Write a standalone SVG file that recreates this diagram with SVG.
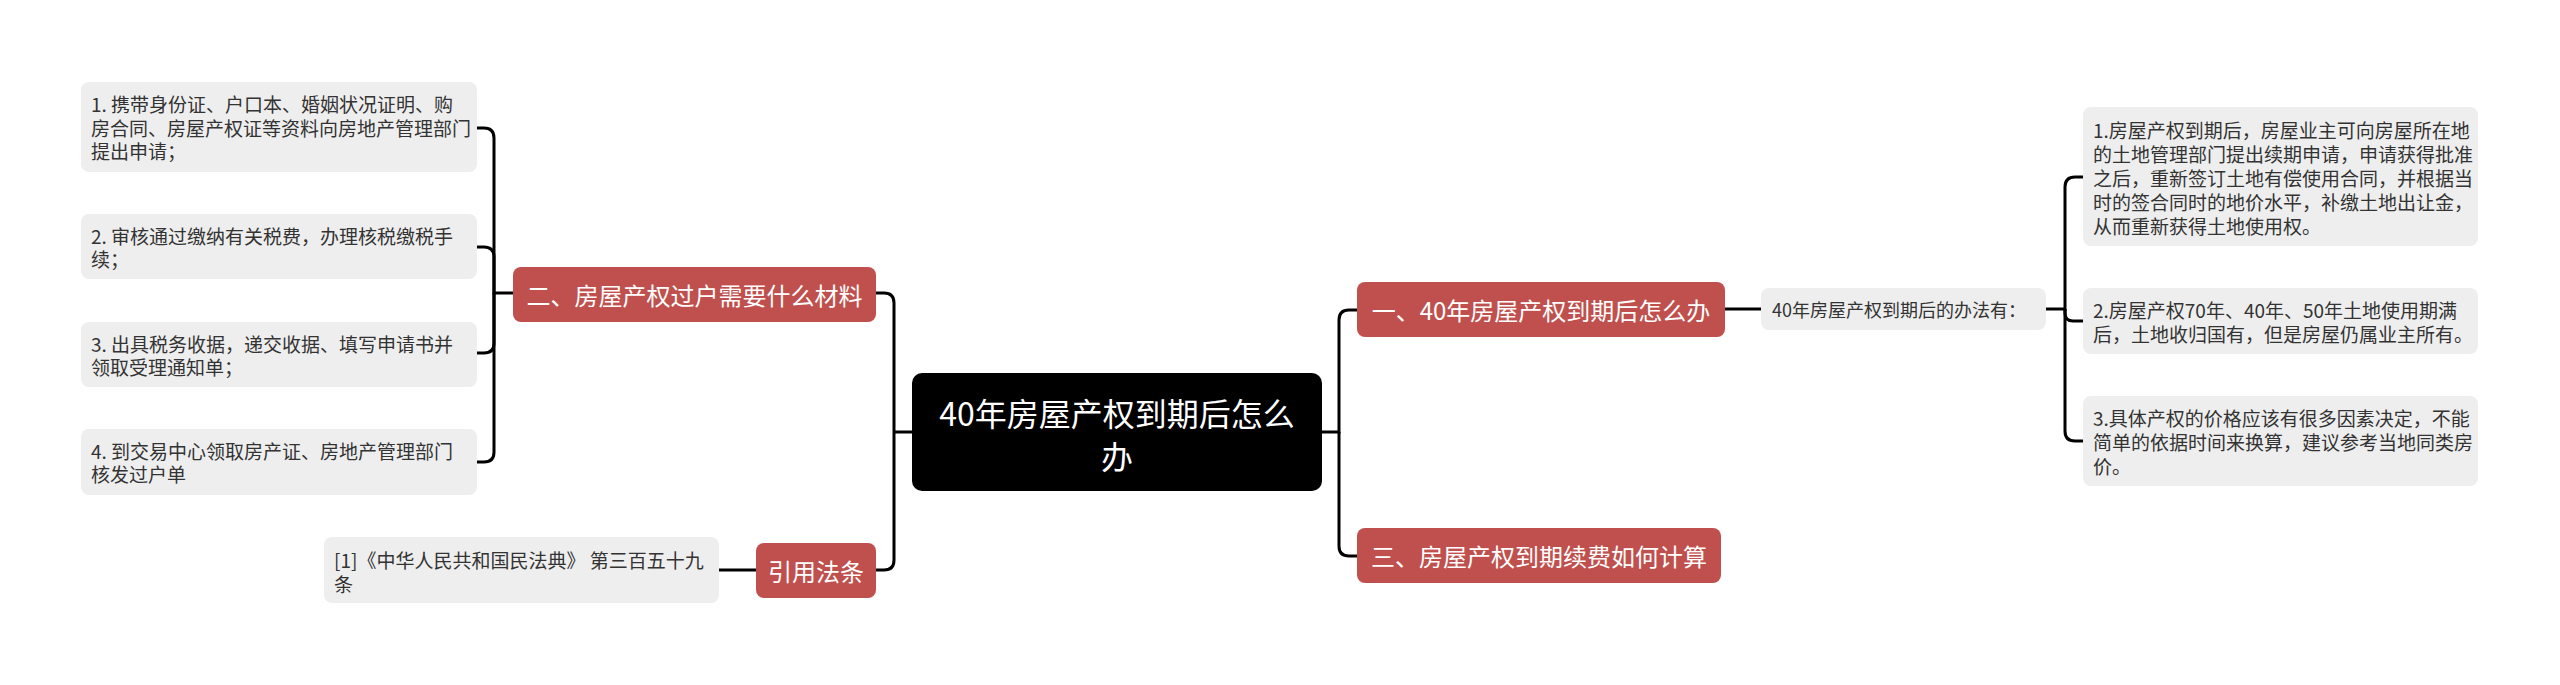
<svg xmlns="http://www.w3.org/2000/svg" width="2560" height="685" viewBox="0 0 2560 685">
<style>
text{font-family:"Noto Sans CJK SC","Noto Sans",sans-serif;dominant-baseline:central}
.leaf rect{fill:#eeeeee}
.leaf text{fill:#333333;font-size:19px}
.red rect{fill:#c0504d}
.red text{fill:#ffffff;font-size:24px;text-anchor:middle}
.root rect{fill:#000000}
.root text{fill:#ffffff;font-size:32px;text-anchor:middle}
.conn path{fill:none;stroke:#000000;stroke-width:3}
</style>
<rect width="2560" height="685" fill="#ffffff"/>
<g class="conn" id="connectors">
<path d="M913,432 H894"/>
<path d="M894,432 V303 Q894,293 884,293 H876"/>
<path d="M894,432 V560 Q894,570 884,570 H876"/>
<path d="M513,293 H494 V138 Q494,128 484,128 H477"/>
<path d="M494,293 V257 Q494,247 484,247 H477"/>
<path d="M494,293 V343 Q494,353 484,353 H477"/>
<path d="M494,293 V452 Q494,462 484,462 H477"/>
<path d="M756,570 H719"/>
<path d="M1322,432 H1339 V320 Q1339,310 1349,310 H1357"/>
<path d="M1339,432 V546 Q1339,556 1349,556 H1357"/>
<path d="M1725,309 H1761"/>
<path d="M2046,309 H2065 V187 Q2065,177 2075,177 H2083"/>
<path d="M2065,309 V313 Q2065,321 2073,321 H2083"/>
<path d="M2065,309 V431 Q2065,441 2075,441 H2083"/>
</g>
<g id="root" class="root">
<rect x="912" y="373" width="410" height="118" rx="10"/>
<text x="1117" y="412">40年房屋产权到期后怎么</text>
<text x="1117" y="455">办</text>
</g>
<g id="n2" class="red">
<rect x="513" y="267" width="363" height="55" rx="8"/>
<text x="694.5" y="294.5">二、房屋产权过户需要什么材料</text>
</g>
<g id="ncite" class="red">
<rect x="756" y="543" width="120" height="55" rx="8"/>
<text x="816" y="570.5">引用法条</text>
</g>
<g id="n1" class="red">
<rect x="1357" y="282" width="368" height="55" rx="8"/>
<text x="1541" y="309.5">一、40年房屋产权到期后怎么办</text>
</g>
<g id="n3" class="red">
<rect x="1357" y="528" width="364" height="55" rx="8"/>
<text x="1539" y="555.5">三、房屋产权到期续费如何计算</text>
</g>
<g id="l1" class="leaf">
<rect x="81" y="82" width="396" height="90" rx="8"/>
<text x="91" y="103.5">1. 携带身份证、户口本、婚姻状况证明、购</text>
<text x="91" y="127">房合同、房屋产权证等资料向房地产管理部门</text>
<text x="91" y="150.5">提出申请；</text>
</g>
<g id="l2" class="leaf">
<rect x="81" y="214" width="396" height="65" rx="8"/>
<text x="91" y="235">2. 审核通过缴纳有关税费，办理核税缴税手</text>
<text x="91" y="258.5">续；</text>
</g>
<g id="l3" class="leaf">
<rect x="81" y="322" width="396" height="65" rx="8"/>
<text x="91" y="343">3. 出具税务收据，递交收据、填写申请书并</text>
<text x="91" y="366.5">领取受理通知单；</text>
</g>
<g id="l4" class="leaf">
<rect x="81" y="429" width="396" height="66" rx="8"/>
<text x="91" y="450">4. 到交易中心领取房产证、房地产管理部门</text>
<text x="91" y="473.5">核发过户单</text>
</g>
<g id="cite" class="leaf">
<rect x="324" y="537" width="395" height="66" rx="8"/>
<text x="334" y="559.5">[1]《中华人民共和国民法典》 第三百五十九</text>
<text x="334" y="583">条</text>
</g>
<g id="m1" class="leaf">
<rect x="1761" y="288" width="285" height="42" rx="8"/>
<text x="1772" y="309" style="font-size:18px">40年房屋产权到期后的办法有：</text>
</g>
<g id="r1" class="leaf">
<rect x="2083" y="107" width="395" height="139" rx="8"/>
<text x="2093" y="129">1.房屋产权到期后，房屋业主可向房屋所在地</text>
<text x="2093" y="153">的土地管理部门提出续期申请，申请获得批准</text>
<text x="2093" y="177">之后，重新签订土地有偿使用合同，并根据当</text>
<text x="2093" y="201">时的签合同时的地价水平，补缴土地出让金，</text>
<text x="2093" y="225">从而重新获得土地使用权。</text>
</g>
<g id="r2" class="leaf">
<rect x="2083" y="288" width="395" height="66" rx="8"/>
<text x="2093" y="309.5">2.房屋产权70年、40年、50年土地使用期满</text>
<text x="2093" y="333.5">后，土地收归国有，但是房屋仍属业主所有。</text>
</g>
<g id="r3" class="leaf">
<rect x="2083" y="396" width="395" height="90" rx="8"/>
<text x="2093" y="417.5">3.具体产权的价格应该有很多因素决定，不能</text>
<text x="2093" y="441.5">简单的依据时间来换算，建议参考当地同类房</text>
<text x="2093" y="465.5">价。</text>
</g>
</svg>
